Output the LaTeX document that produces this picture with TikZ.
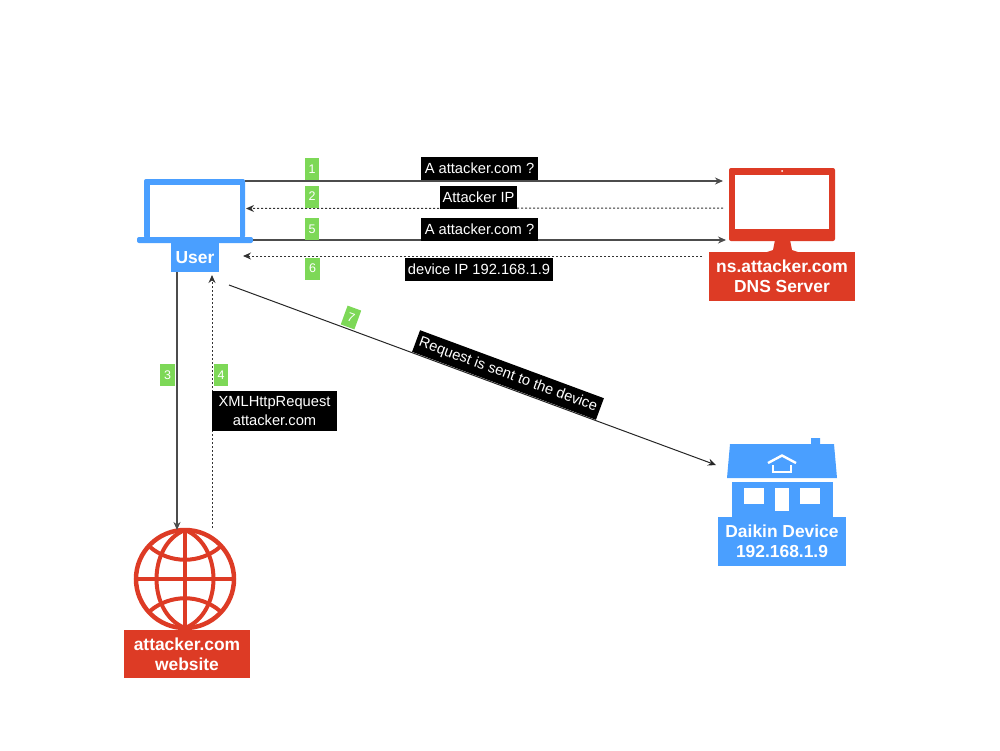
\documentclass[tikz,border=0pt]{standalone}
\usepackage{fontspec}
\setmainfont{Liberation Sans}
\usetikzlibrary{arrows.meta, calc, positioning}
\definecolor{iconblue}{HTML}{4A9FFF}
\definecolor{iconred}{HTML}{DD3B25}
\definecolor{taggreen}{HTML}{7DD857}

\begin{document}
\begin{tikzpicture}[
    x=1pt, y=-1pt,
    every node/.style={inner sep=0pt, outer sep=0pt, align=center},
    blueshape/.style={fill=iconblue},
    redshape/.style={fill=iconred},
    hole/.style={fill=white},
    nameblue/.style={fill=iconblue, text=white, font=\bfseries\fontsize{17.4}{20}\selectfont},
    namered/.style={fill=iconred, text=white, font=\bfseries\fontsize{17.4}{20}\selectfont},
    tag/.style={fill=taggreen, text=white, minimum width=14.5pt, minimum height=22pt, font=\fontsize{12.5}{14}\selectfont},
    msg/.style={fill=black, text=white, minimum height=23pt, font=\fontsize{14.7}{19}\selectfont},
    arrow/.style={-{Stealth[length=8pt,width=7pt]}, line width=1.1pt, draw=black!70},
    dotarrow/.style={-{Stealth[length=8pt,width=7pt]}, line width=1pt, dash pattern=on 2pt off 2pt, draw=black!80},
    globeline/.style={draw=iconred, line width=4pt}
]
\useasboundingbox (0,0) rectangle (1000,750);

% User laptop
\node[blueshape, rounded corners=2pt, minimum width=101pt, minimum height=59pt] (laptop) at (194.5,208.5) {};
\node[hole, minimum width=90pt, minimum height=53pt] (laptopscreen) at (195,211.5) {};
\node[blueshape, rounded corners=2pt, minimum width=116pt, minimum height=6pt] (laptopbase) at (195,240) {};
\node[nameblue, minimum width=48pt, minimum height=29pt] (user) at (195,257.5) {User};

% DNS server
\node[redshape, rounded corners=2pt, minimum width=106pt, minimum height=73pt] (monitor) at (782,204.5) {};
\node[hole, minimum width=94pt, minimum height=54pt] (monitorscreen) at (782,202) {};
\fill[hole] (782,171) circle (1pt);
\fill[iconred] (775,240) -- (790,240) -- (792,250) -- (798,252) -- (767,252) -- (773,250) -- cycle;
\node[namered, minimum width=146pt, minimum height=49pt] (dnsname) at (782,276.5) {ns.attacker.com\\DNS Server};

% Website
\node[circle, globeline, line width=4.5pt, minimum size=98pt] (globe) at (185,579) {};
\draw[globeline] (globe.north) -- (globe.south);
\draw[globeline] (globe.west) -- (globe.east);
\draw[globeline] (globe.north) .. controls (147,545) and (147,613) .. (globe.south);
\draw[globeline] (globe.north) .. controls (223,545) and (223,613) .. (globe.south);
\draw[globeline] (150,547) .. controls (170,564) and (200,564) .. (220,547);
\draw[globeline] (150,611) .. controls (170,594) and (200,594) .. (220,611);
\node[namered, minimum width=126pt, minimum height=48pt] (sitename) at (187,654) {attacker.com\\website};

% Daikin house
\fill[iconblue] (730,444) -- (811,444) -- (811,438) -- (820,438) -- (820,444) -- (834,444) -- (837,478) -- (727,478) -- cycle;
\node[blueshape, minimum width=101pt, minimum height=36pt] (house) at (782.5,500) {};
\node[hole, minimum width=20pt, minimum height=16pt] (windowleft) at (754,496) {};
\node[hole, minimum width=14pt, minimum height=23pt] (door) at (782,499.5) {};
\node[hole, minimum width=20pt, minimum height=16pt] (windowright) at (810,496) {};
\draw[white, line width=2.4pt] (768,463) -- (782,455.5) -- (796,463);
\draw[white, line width=2.4pt] (773,465) -- (773,472) -- (791,472) -- (791,465);
\node[nameblue, minimum width=128pt, minimum height=49pt] (devname) at (782,541.5) {Daikin Device\\192.168.1.9};

% Arrows
\draw[arrow] ([yshift=-2pt]laptop.north east) -- ([shift={(-6pt,-13pt)}]monitor.north west);
\draw[dotarrow] ([shift={(-6pt,-3.5pt)}]monitor.west) -- ([xshift=1pt]laptop.east);
\draw[arrow] ([shift={(8pt,-2pt)}]laptop.south east) -- ([shift={(-3pt,1pt)}]monitor.south west);
\draw[dotarrow] ([shift={(-27pt,-15pt)}]monitor.south west) -- ([xshift=24pt,yshift=1.5pt]user.east);
\draw[arrow] ([xshift=-18pt]user.south) -- ([xshift=-8pt]globe.north);
\draw[dotarrow] ([xshift=27pt,yshift=2pt]globe.north) -- ([xshift=17pt,yshift=-3pt]user.south);
\draw[arrow, line width=1pt, draw=black!85] ([shift={(10pt,-13pt)}]user.south east) -- ([shift={(-16pt,17pt)}]house.north west);

% Step tags
\node[tag] (tagone) at (312,169) {1};
\node[tag] (tagtwo) at (312,196.5) {2};
\node[tag] (tagfive) at (312,229) {5};
\node[tag] (tagsix) at (312.5,268.5) {6};
\node[tag] (tagthree) at (167.5,375) {3};
\node[tag] (tagfour) at (221,375) {4};
\node[tag, rotate=-20, minimum height=20pt] (tagseven) at (351,317.5) {7};

% Messages
\node[msg, minimum width=117pt] (askone) at (479.5,168) {A attacker.com ?};
\node[msg, minimum width=77pt] (answerone) at (478.5,197) {Attacker IP};
\node[msg, minimum width=117pt] (asktwo) at (479.5,229) {A attacker.com ?};
\node[msg, minimum width=148pt] (answertwo) at (479,269) {device IP 192.168.1.9};
\node[msg, minimum width=125pt, minimum height=40pt] (xhr) at (274.5,411) {XMLHttpRequest\\attacker.com};
\node[msg, rotate=-20.3, minimum width=196pt] (request) at (508,375) {Request is sent to the device};

\end{tikzpicture}
\end{document}
